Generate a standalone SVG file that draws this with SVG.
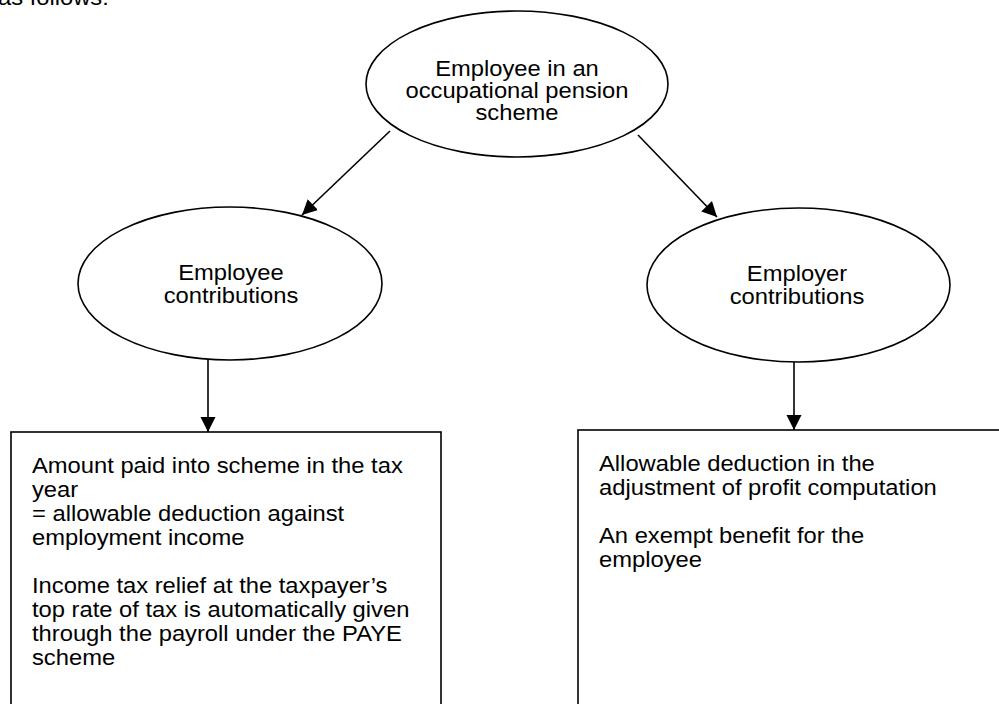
<svg xmlns="http://www.w3.org/2000/svg" width="999" height="704" viewBox="0 0 999 704">
<style>
.shape{fill:#fff;stroke:#000;stroke-width:1.6}
.conn{fill:none;stroke:#000;stroke-width:1.6}
text{font-family:"Liberation Sans",Arial,Helvetica,sans-serif;font-size:22px;fill:#000}
.c{text-anchor:middle}
</style>
<defs>
<marker id="arr" markerUnits="userSpaceOnUse" markerWidth="16" markerHeight="16" viewBox="0 0 16 16" refX="15" refY="7.5" orient="auto">
<path d="M0,0 L15,7.5 L0,15 z" fill="#000"/>
</marker>
</defs>
<g transform="translate(-2,0) scale(1.08,1)"><text x="0" y="4.5">as follows:</text></g>
<g id="connectors">
<line class="conn" x1="390" y1="131" x2="302" y2="215" marker-end="url(#arr)"/>
<line class="conn" x1="638" y1="135" x2="717" y2="217" marker-end="url(#arr)"/>
<line class="conn" x1="208" y1="359" x2="208" y2="432" marker-end="url(#arr)"/>
<line class="conn" x1="794" y1="362" x2="794" y2="430" marker-end="url(#arr)"/>
</g>
<g id="node-top">
<ellipse class="shape" cx="517" cy="84" rx="151" ry="73"/>
<g transform="translate(517,0) scale(1.08,1)">
<text class="c" x="0" y="76">Employee in an</text>
<text class="c" x="0" y="98">occupational pension</text>
<text class="c" x="0" y="120">scheme</text>
</g>
</g>
<g id="node-employee">
<ellipse class="shape" cx="230" cy="283.5" rx="152" ry="76.5"/>
<g transform="translate(231,0) scale(1.08,1)">
<text class="c" x="0" y="280">Employee</text>
<text class="c" x="0" y="303">contributions</text>
</g>
</g>
<g id="node-employer">
<ellipse class="shape" cx="798.5" cy="285" rx="151.5" ry="77"/>
<g transform="translate(797,0) scale(1.08,1)">
<text class="c" x="0" y="281">Employer</text>
<text class="c" x="0" y="304">contributions</text>
</g>
</g>
<g id="box-employee">
<rect class="shape" x="11" y="432" width="430" height="290"/>
<g transform="translate(32,0) scale(1.08,1)">
<text x="0" y="473">Amount paid into scheme in the tax</text>
<text x="0" y="497">year</text>
<text x="0" y="521">= allowable deduction against</text>
<text x="0" y="545">employment income</text>
<text x="0" y="593.5">Income tax relief at the taxpayer’s</text>
<text x="0" y="617.5">top rate of tax is automatically given</text>
<text x="0" y="641.5">through the payroll under the PAYE</text>
<text x="0" y="665.5">scheme</text>
</g>
</g>
<g id="box-employer">
<rect class="shape" x="578" y="430" width="440" height="290"/>
<g transform="translate(599,0) scale(1.08,1)">
<text x="0" y="471.5">Allowable deduction in the</text>
<text x="0" y="495.5">adjustment of profit computation</text>
<text x="0" y="543.5">An exempt benefit for the</text>
<text x="0" y="567.5">employee</text>
</g>
</g>
</svg>
